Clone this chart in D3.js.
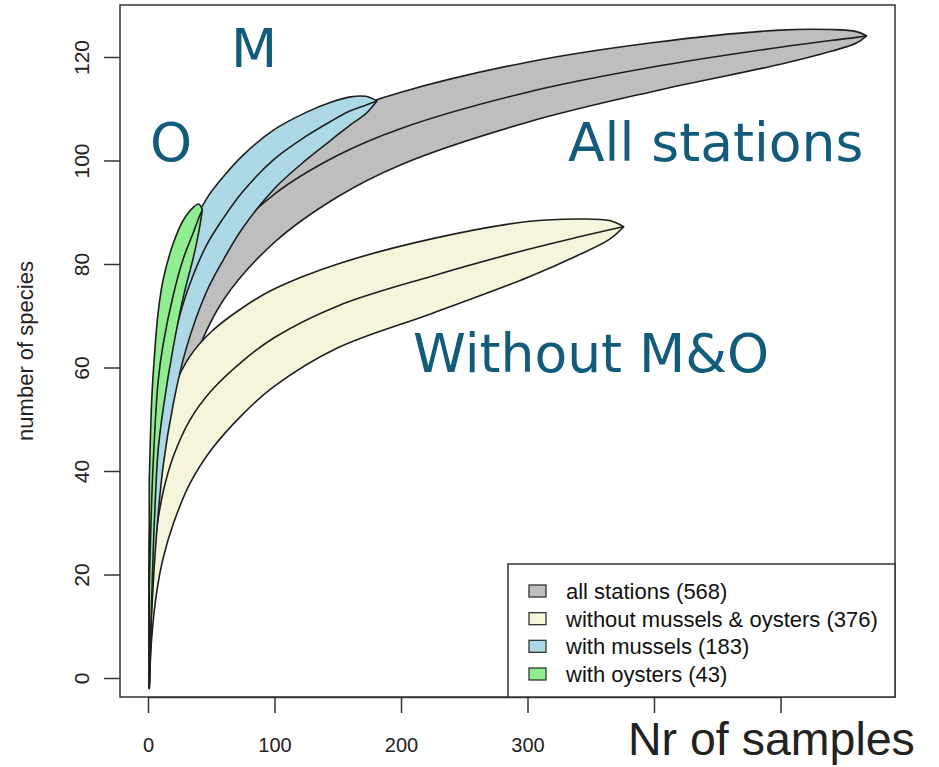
<!DOCTYPE html>
<html>
<head>
<meta charset="utf-8">
<script src="https://cdn.jsdelivr.net/npm/d3@7"></script>
<style>
  body { margin: 0; background: #fff; }
  text { font-family: "Liberation Sans", Arial, sans-serif; }
</style>
</head>
<body>
<script>
// Species accumulation curves: mean number of species and the +/- band (2 sd)
var allX    = [1, 2, 4, 7, 12, 20, 35, 60, 100, 150, 200, 300, 400, 500, 540, 560, 568];
var allMean = [10, 19, 30, 40, 50, 60, 72.5, 84, 93.5, 101, 106.2, 113.2, 118.1, 121.9, 123.2, 123.8, 124.1];
var allBand = [12, 13.5, 14.5, 14.5, 14, 13, 12, 10.8, 9.3, 8, 7, 5.8, 4.7, 3.3, 2.1, 1.1, 0];

var withoutX    = [1, 3, 7, 12, 20, 33, 50, 75, 100, 150, 225, 300, 340, 365, 376];
var withoutMean = [9, 19.5, 29, 36, 42.8, 49.8, 55.5, 61.3, 65.8, 71.9, 77.7, 82.8, 85.2, 86.6, 87.2];
var withoutBand = [11, 11.5, 12.2, 12.8, 13, 12.3, 11.4, 10.3, 9.4, 8.1, 7.2, 5.4, 3.5, 1.8, 0];

var musselX    = [1, 3, 7, 12, 20, 30, 46, 60, 75, 100, 125, 144, 160, 172, 181];
var musselMean = [12, 27, 42, 54, 65, 74, 83.5, 89, 94, 100.3, 104.7, 107.5, 109.6, 110.7, 111.5];
var musselBand = [14, 14, 13.5, 13, 12, 10.5, 9, 8, 7, 5.7, 4.6, 3.7, 2.7, 1.7, 0];

var oysterX    = [1, 3, 5, 8, 12, 20, 28, 36, 40, 43];
var oysterMean = [18, 35, 46, 57.3, 64.5, 74, 81.1, 86.2, 88.8, 90.5];
var oysterBand = [20, 19, 16, 13.3, 12.5, 10, 7.4, 4.8, 2.8, 0];

var legendLabels = ["all stations (568)", "without mussels & oysters (376)", "with mussels (183)", "with oysters (43)"];
var fillColors = ["#bebebe", "#f5f5dc", "#add8e6", "#90ee90"];

var xTicks = [0, 100, 200, 300, 400, 500];
var yTicks = [0, 20, 40, 60, 80, 100, 120];

var svgWidth = 939, svgHeight = 767;
var frame = { left: 120, right: 895, top: 5, bottom: 697 };

var svg = d3.select("body").append("svg")
  .attr("width", svgWidth)
  .attr("height", svgHeight);

svg.append("rect").attr("width", svgWidth).attr("height", svgHeight).attr("fill", "#fff");

var xScale = d3.scaleLinear().domain([0, 500]).range([148, 780.5]);
var yScale = d3.scaleLinear().domain([0, 120]).range([678, 57]);

function makeSeries(xs, mean, bandw) {
  return xs.map(function(d, i) {
    return { n: d, mean: mean[i], upper: mean[i] + bandw[i], lower: mean[i] - bandw[i] };
  });
}
var series = [
  makeSeries(allX, allMean, allBand),
  makeSeries(withoutX, withoutMean, withoutBand),
  makeSeries(musselX, musselMean, musselBand),
  makeSeries(oysterX, oysterMean, oysterBand)
];

var curve = d3.curveCatmullRom.alpha(0.5);

var band = d3.area()
  .x(d => xScale(d.n))
  .y0(d => yScale(d.lower))
  .y1(d => yScale(d.upper))
  .curve(curve);

var meanLine = d3.line()
  .x(d => xScale(d.n))
  .y(d => yScale(d.mean))
  .curve(curve);

var plotGroup = svg.append("g");
series.forEach(function(s, i) {
  plotGroup.append("path")
    .attr("d", band(s) + "Z")
    .attr("fill", fillColors[i])
    .attr("stroke", "#1e1e1e")
    .attr("stroke-width", 1.6)
    .attr("stroke-linejoin", "round");
  plotGroup.append("path")
    .attr("d", meanLine(s))
    .attr("fill", "none")
    .attr("stroke", "#1e1e1e")
    .attr("stroke-width", 1.6);
});

// frame
svg.append("rect")
  .attr("x", frame.left)
  .attr("y", frame.top)
  .attr("width", frame.right - frame.left)
  .attr("height", frame.bottom - frame.top)
  .attr("fill", "none")
  .attr("stroke", "#333")
  .attr("stroke-width", 1.5);

// y axis
var leftAxis = d3.axisLeft(yScale).tickValues(yTicks).tickSize(16).tickSizeOuter(0);
var yAxisG = svg.append("g")
  .attr("transform", `translate(${frame.left}, 0)`)
  .call(leftAxis);
yAxisG.select(".domain").remove();
yAxisG.selectAll(".tick line").attr("stroke", "#333").attr("stroke-width", 1.5);
yAxisG.selectAll(".tick text")
  .attr("transform", "rotate(-90)")
  .attr("x", 0)
  .attr("y", -31)
  .attr("dy", 0)
  .attr("text-anchor", "middle")
  .attr("fill", "#222")
  .style("font-size", "21px")
  .style("font-family", "Liberation Sans, Arial, sans-serif");

// x axis
var bottomAxis = d3.axisBottom(xScale).tickValues(xTicks).tickSize(16).tickSizeOuter(0)
  .tickFormat(d => d <= 300 ? d : "");
var xAxisG = svg.append("g")
  .attr("transform", `translate(0, ${frame.bottom})`)
  .call(bottomAxis);
xAxisG.select(".domain").attr("stroke", "#333").attr("stroke-width", 1.5);
xAxisG.selectAll(".tick line").attr("stroke", "#333").attr("stroke-width", 1.5);
xAxisG.selectAll(".tick text")
  .attr("y", 55)
  .attr("dy", 0)
  .attr("fill", "#222")
  .style("font-size", "20px")
  .style("font-family", "Liberation Sans, Arial, sans-serif");

// axis labels
svg.append("text")
  .attr("transform", `translate(33, ${(frame.top + frame.bottom) / 2}) rotate(-90)`)
  .attr("text-anchor", "middle")
  .attr("fill", "#222")
  .style("font-size", "22px")
  .text("number of species");

svg.append("text")
  .attr("x", 628)
  .attr("y", 755)
  .attr("fill", "#222")
  .style("font-size", "46.5px")
  .text("Nr of samples");

// annotations
var annoColor = "#125b7b";
var annos = [
  { t: "M", x: 231, y: 67 },
  { t: "O", x: 150, y: 161 },
  { t: "All stations", x: 568, y: 161 },
  { t: "Without M&O", x: 413, y: 372 }
];
svg.selectAll(".anno")
  .data(annos)
  .enter()
  .append("text")
  .attr("class", "anno")
  .attr("x", d => d.x)
  .attr("y", d => d.y)
  .attr("fill", annoColor)
  .style("font-family", "DejaVu Sans, Verdana, sans-serif")
  .style("font-size", "53.5px")
  .text(d => d.t);

// legend
var legend = svg.append("g");
legend.append("rect")
  .attr("x", 508)
  .attr("y", 564)
  .attr("width", frame.right - 508)
  .attr("height", frame.bottom - 564)
  .attr("fill", "#fff")
  .attr("stroke", "#333")
  .attr("stroke-width", 1.5);

var rowY = d3.scalePoint().domain(legendLabels).range([591, 674]);
legend.selectAll(".key")
  .data(legendLabels)
  .enter()
  .append("rect")
  .attr("class", "key")
  .attr("x", 529)
  .attr("y", d => rowY(d) - 6)
  .attr("width", 17)
  .attr("height", 12)
  .attr("fill", (d, i) => fillColors[i])
  .attr("stroke", "#333")
  .attr("stroke-width", 1.3);

legend.selectAll(".label")
  .data(legendLabels)
  .enter()
  .append("text")
  .attr("class", "label")
  .attr("x", 566)
  .attr("y", d => rowY(d))
  .attr("dy", "0.36em")
  .attr("fill", "#111")
  .style("font-size", "22px")
  .text(d => d);
</script>
</body>
</html>
